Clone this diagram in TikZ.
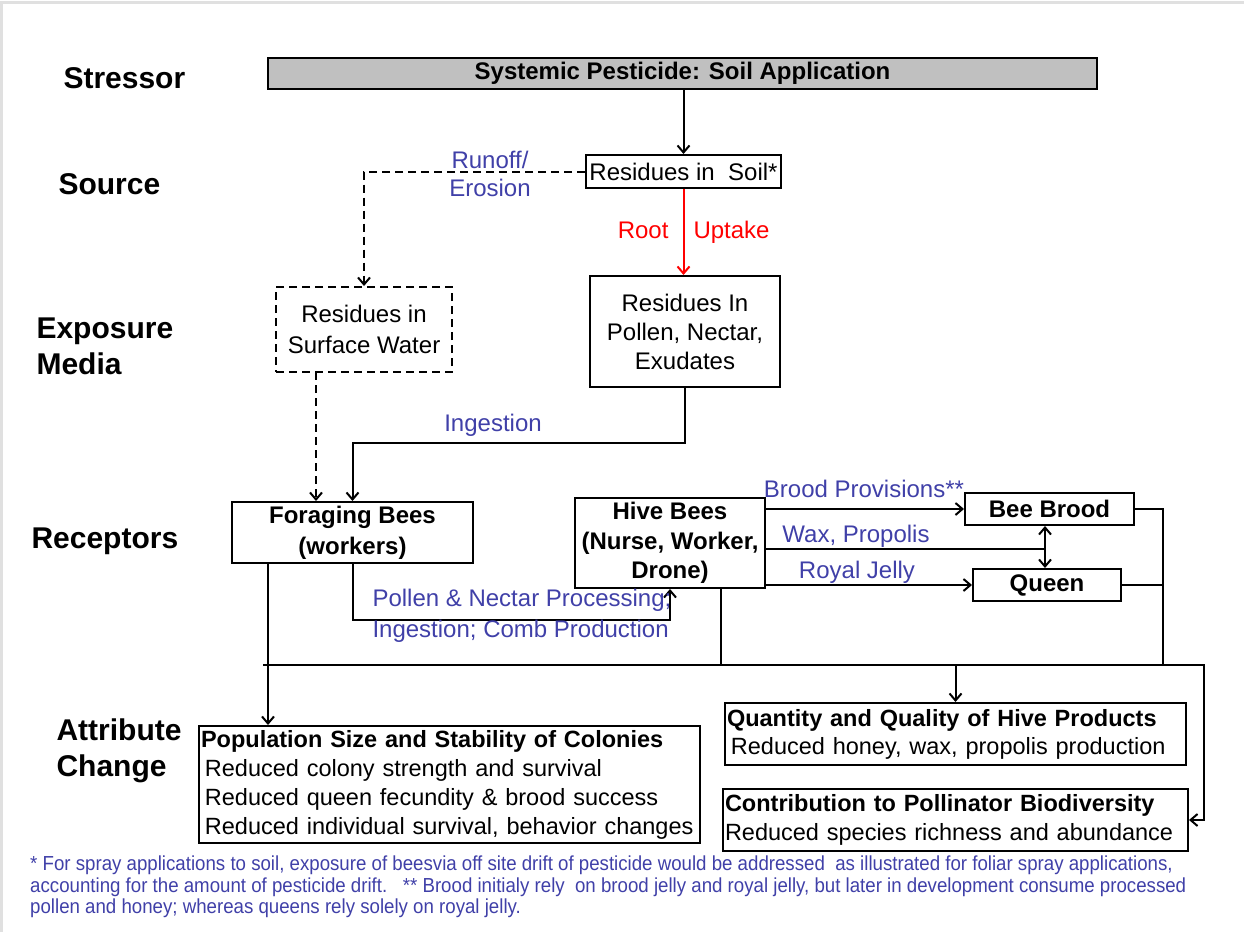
\documentclass[tikz,border=0pt]{standalone}
\usepackage{fontspec}
\setmainfont{Liberation Sans}
\newfontfamily\narrowfont[FakeStretch=0.92]{Liberation Sans}
\usetikzlibrary{arrows.meta}

\definecolor{lblblue}{RGB}{64,64,168}
\definecolor{stressgray}{RGB}{192,192,192}

\newcommand{\regfont}{\fontsize{24}{30}\selectfont}
\newcommand{\headfont}{\fontsize{30}{36}\selectfont\bfseries}
\newcommand{\notefont}{\narrowfont\fontsize{20.3}{21.5}\selectfont}

\tikzset{
  box/.style={draw, line width=2pt, inner sep=0pt, align=center, font=\regfont},
  boldbox/.style={box, font=\regfont\bfseries},
  effectbox/.style={draw, line width=2pt, inner xsep=2pt, inner ysep=0pt, align=left},
  tier/.style={anchor=west, align=left, font=\headfont},
  link/.style={line width=2pt},
  flow/.style={link, -{Straight Barb[length=7pt,width=12pt]}},
  twoway/.style={link, {Straight Barb[length=7pt,width=12pt]}-{Straight Barb[length=7pt,width=12pt]}},
  dashflow/.style={flow, dash pattern=on 8pt off 5pt},
  route/.style={text=lblblue, align=center, font=\regfont},
}

\begin{document}
\begin{tikzpicture}[x=1pt, y=-1pt]

    \useasboundingbox (0,0) rectangle (1244,932);

    % Frame
    \draw[black!12, line width=3pt] (1244,2) -- (1,2) -- (1,932);

    % Tier labels
    \node[tier] (tstress) at (60,78) {Stressor};
    \node[tier] (tsource) at (55,184) {Source};
    \node[tier] (tmedia) at (33,346) {Exposure\\Media};
    \node[tier] (trecept) at (28,541) {Receptors};
    \node[tier] (tattr) at (53,751) {Attribute\\Change};

    % Stressor and source
    \node[boldbox, fill=stressgray, line width=2.5pt, minimum width=829pt, minimum height=31pt]
        (stress) at (682.5,73.5) {Systemic Pesticide: Soil Application};
    \node[box, minimum width=195pt, minimum height=33pt]
        (soil) at (683.5,171.5) {Residues in\ \ Soil*};

    % Exposure media
    \node[box, dash pattern=on 8pt off 5pt, minimum width=176pt, minimum height=85pt,
        font={\fontsize{24}{31}\selectfont}]
        (water) at (364,329.5) {Residues in\\Surface Water};
    \node[box, minimum width=190pt, minimum height=111pt, font={\fontsize{24}{29}\selectfont}]
        (pollen) at (685,331.5) {Residues In\\Pollen, Nectar,\\Exudates};

    % Receptors
    \node[boldbox, minimum width=241pt, minimum height=61pt, font={\fontsize{24}{31}\selectfont\bfseries}]
        (forage) at (352.5,532.5) {Foraging Bees\\(workers)};
    \node[boldbox, minimum width=190pt, minimum height=90pt, font={\fontsize{24}{29.5}\selectfont\bfseries}]
        (hive) at (670,543) {Hive Bees\\(Nurse, Worker,\\Drone)};
    \node[boldbox, minimum width=169pt, minimum height=32pt] (brood) at (1049.5,509) {Bee Brood};
    \node[boldbox, minimum width=148pt, minimum height=32pt] (queen) at (1047,585) {Queen};

    % Attribute change
    \node[effectbox, text width=497pt, minimum height=117pt, font={\fontsize{23.5}{29}\selectfont}]
        (pop) at (449.5,784.5) {\textbf{Population Size and Stability of Colonies}\\
        \,Reduced colony strength and survival\\
        \,Reduced queen fecundity \& brood success\\
        \,Reduced individual survival, behavior changes};
    \node[effectbox, text width=457pt, minimum height=62pt, font={\fontsize{23.5}{28}\selectfont}]
        (prod) at (955.5,734) {\textbf{Quantity and Quality of Hive Products}\\
        \,Reduced honey, wax, propolis production};
    \node[effectbox, text width=461pt, minimum height=62pt, font={\fontsize{23.5}{29}\selectfont}]
        (bio) at (955.5,820) {\textbf{Contribution to Pollinator Biodiversity}\\
        Reduced species richness and abundance};

    % Bends and junctions
    \coordinate (ingbend) at (685,443);
    \coordinate (wdrop) at (316,372);
    \coordinate (pnbend) at (352.5,620);
    \coordinate (waxjoin) at (1045,549);
    \coordinate (rjoin) at (1163,665);
    \coordinate (hivedrop) at (721,588);
    \coordinate (fdrop) at (268,563);
    \coordinate (busL) at (263,665);
    \coordinate (busR) at (1204,665);

    % Pathways
    \draw[flow] (stress.south -| soil.north) -- (soil.north);
    \draw[dashflow] (soil.west) -| (water.north);
    \draw[flow, red] (soil.south) -- (soil.south |- pollen.north);
    \draw[dashflow] (wdrop) -- (wdrop |- forage.north);
    \draw[flow] (pollen.south) -- (ingbend) -| (forage.north);
    \draw[flow] (forage.south) -- (pnbend) -| (hive.south);
    \draw[flow] (hive.east |- brood.west) -- (brood.west);
    \draw[link] (hive.east |- waxjoin) -- (waxjoin);
    \draw[twoway] (brood.south -| waxjoin) -- (queen.north -| waxjoin);
    \draw[flow] (hive.east |- queen.west) -- (queen.west);

    % Effects
    \draw[link] (brood.east) -| (rjoin);
    \draw[link] (queen.east) -- (queen.east -| rjoin);
    \draw[link] (hivedrop) -- (hivedrop |- rjoin);
    \draw[flow] (busL) -- (busR) |- (bio.east);
    \draw[flow] (prod.north |- busR) -- (prod.north);
    \draw[flow] (fdrop) -- (fdrop |- pop.north);

    % Route labels
    \node[route, font={\fontsize{24}{28}\selectfont}] (runoff) at (490,174) {Runoff/\\Erosion};
    \node[route, text=red, anchor=base east] (root) at (672,238) {Root};
    \node[route, text=red, anchor=base west] (uptake) at (690,238) {Uptake};
    \node[route] (ingest) at (493,425) {Ingestion};
    \node[route, anchor=west, align=left, font={\fontsize{24}{31}\selectfont}]
        (process) at (369,616) {Pollen \& Nectar Processing;\\Ingestion; Comb Production};
    \node[route] (provis) at (864,489) {Brood Provisions**};
    \node[route] (waxlbl) at (856,536) {Wax, Propolis};
    \node[route] (jelly) at (857,572) {Royal Jelly};

    % Footnote
    \node[anchor=north west, align=left, text=lblblue, font=\notefont, inner sep=0pt]
        (note) at (30,856) {* For spray applications to soil, exposure of beesvia off site drift of pesticide would be addressed\ \ as illustrated for foliar spray applications,\\
        accounting for the amount of pesticide drift.\ \ \ ** Brood initialy rely\ \ on brood jelly and royal jelly, but later in development consume processed\\
        pollen and honey; whereas queens rely solely on royal jelly.};

\end{tikzpicture}
\end{document}
